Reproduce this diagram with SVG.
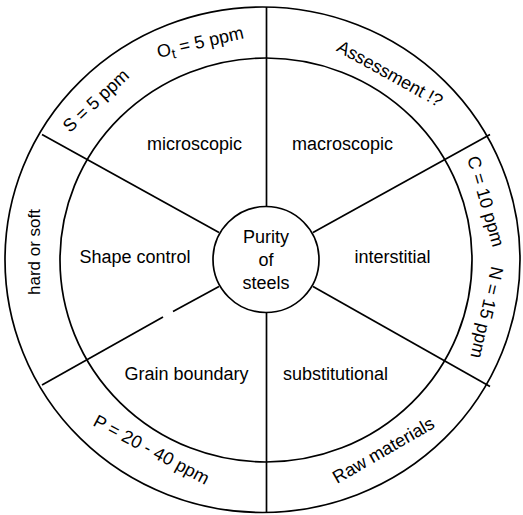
<svg xmlns="http://www.w3.org/2000/svg" width="523" height="515" viewBox="0 0 523 515">
  <style>
    .ln { fill: none; stroke: #000; stroke-width: 1.7; }
    .t { font-family: "Liberation Sans", Arial, Helvetica, sans-serif; font-size: 18px; fill: #000; text-anchor: middle; }
  </style>
  <rect x="0" y="0" width="523" height="515" fill="#fff"/>

  <g id="rings">
    <ellipse class="ln" cx="262.5" cy="259.75" rx="257.5" ry="252.75"/>
    <ellipse class="ln" cx="266" cy="260" rx="206" ry="202"/>
  </g>

  <g id="connectors">
    <line class="ln" x1="266.5" y1="7" x2="266.5" y2="207"/>
    <line class="ln" x1="266.5" y1="312" x2="266.5" y2="512.5"/>
    <line class="ln" x1="42" y1="134.5" x2="219" y2="232.5"/>
    <line class="ln" x1="490" y1="134.5" x2="313" y2="232.5"/>
    <line class="ln" x1="219" y1="286.5" x2="173" y2="311.5"/>
    <line class="ln" x1="163" y1="317" x2="42" y2="385"/>
    <line class="ln" x1="313" y1="286.5" x2="490" y2="386.5"/>
  </g>

  <g id="purity">
    <circle class="ln" cx="266" cy="259.5" r="53"/>
    <text class="t" x="266" y="243">Purity</text>
    <text class="t" x="266" y="266">of</text>
    <text class="t" x="266" y="288.5">steels</text>
  </g>

  <g id="microscopic"><text class="t" x="194.5" y="150">microscopic</text></g>
  <g id="macroscopic"><text class="t" x="342.5" y="150">macroscopic</text></g>
  <g id="shape-control"><text class="t" x="135" y="263">Shape control</text></g>
  <g id="interstitial"><text class="t" x="392.5" y="263">interstitial</text></g>
  <g id="grain-boundary"><text class="t" x="186.5" y="380">Grain boundary</text></g>
  <g id="substitutional"><text class="t" x="335.5" y="380">substitutional</text></g>

  <g id="ot"><text class="t" transform="translate(201.5,48) rotate(-13)">O<tspan font-size="14" dy="4">t</tspan><tspan dy="-4"> = 5 ppm</tspan></text></g>
  <g id="s"><text class="t" transform="translate(100,105) rotate(-43)">S = 5 ppm</text></g>
  <g id="assessment"><text class="t" transform="translate(387,79) rotate(29)">Assessment !?</text></g>
  <g id="c"><text class="t" transform="translate(480,203) rotate(74)">C = 10 ppm</text></g>
  <g id="n"><text class="t" transform="translate(481,311) rotate(103)">N = 15 ppm</text></g>
  <g id="raw"><text class="t" transform="translate(386.5,455.5) rotate(-30)">Raw materials</text></g>
  <g id="p"><text class="t" transform="translate(148.5,455) rotate(28)">P = 20 - 40 ppm</text></g>
  <g id="hard"><text class="t" style="font-size:17px" transform="translate(40,252) rotate(-90)">hard or soft</text></g>
</svg>
